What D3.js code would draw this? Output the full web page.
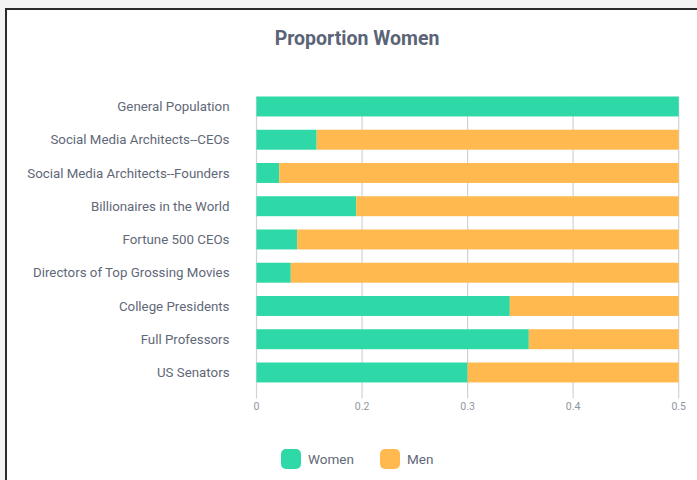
<!DOCTYPE html>
<html>
<head>
<meta charset="utf-8">
<script src="https://cdn.jsdelivr.net/npm/d3@7"></script>
<style>
  html, body { margin: 0; padding: 0; background: #f3f3f3; }
  svg { display: block; font-family: Roboto, "Noto Sans", sans-serif; }
</style>
</head>
<body>
<div id="chart"></div>
<script>
// categories, top to bottom
const categories = [
  "General Population",
  "Social Media Architects--CEOs",
  "Social Media Architects--Founders",
  "Billionaires in the World",
  "Fortune 500 CEOs",
  "Directors of Top Grossing Movies",
  "College Presidents",
  "Full Professors",
  "US Senators"
];

// series values
const women = [0.5, 0.114, 0.043, 0.189, 0.077, 0.065, 0.34, 0.358, 0.3];
const men   = [0, 0.386, 0.457, 0.311, 0.423, 0.435, 0.16, 0.142, 0.2];

// axis tick labels, as shown (evenly spaced)
const tickValues = [0, 0.2, 0.3, 0.4, 0.5];

const seriesNames = ["Women", "Men"];
const colors = ["#2fd8a7", "#ffb94f"];

const width = 697, height = 480;
const margin = { top: 96.5, left: 256.5 };

const svg = d3.select('#chart')
  .append('svg')
  .attr('width', width)
  .attr('height', height);

// white card with dark left/top border
svg.append('rect')
  .attr('x', 6).attr('y', 9)
  .attr('width', width).attr('height', height)
  .attr('fill', '#fff');
svg.append('path')
  .attr('d', `M6,${height} V9 H${width}`)
  .attr('fill', 'none')
  .attr('stroke', '#2b2b2b')
  .attr('stroke-width', 2);

svg.append('text')
  .attr('x', 357)
  .attr('y', 45)
  .attr('text-anchor', 'middle')
  .style('font-size', '19.5px')
  .style('font-weight', 'bold')
  .style('fill', '#5b6477')
  .text('Proportion Women');

const plotW = 678.7 - margin.left;
const step = 33.25;

// the axis puts its labelled ticks at equal distances
const x = d3.scaleLinear()
  .domain(tickValues)
  .range(tickValues.map((d, i) => margin.left + i * plotW / (tickValues.length - 1)));

const y = d3.scaleBand()
  .domain(categories)
  .range([margin.top, margin.top + step * (categories.length - 0.4)])
  .paddingInner(0.4)
  .paddingOuter(0);

const plotBottom = y.range()[1];

// grid lines
svg.append('g')
  .selectAll('line')
  .data(tickValues)
  .join('line')
  .attr('x1', d => x(d)).attr('x2', d => x(d))
  .attr('y1', margin.top).attr('y2', plotBottom + 16)
  .attr('stroke', '#cfd3d9')
  .attr('stroke-width', 1.2);

// stacked bars
const table = categories.map((c, i) => ({ category: c, Women: women[i], Men: men[i] }));
const stacked = d3.stack().keys(seriesNames)(table);

svg.append('g')
  .selectAll('g')
  .data(stacked)
  .join('g')
  .attr('fill', (d, i) => colors[i])
  .selectAll('rect')
  .data(d => d)
  .join('rect')
  .attr('x', d => x(d[0]))
  .attr('y', d => y(d.data.category))
  .attr('width', d => Math.max(0, x(d[1]) - x(d[0])))
  .attr('height', y.bandwidth());

// category labels
svg.append('g')
  .selectAll('text')
  .data(categories)
  .join('text')
  .attr('x', 229.5)
  .attr('y', d => y(d) + y.bandwidth() / 2)
  .attr('dy', '0.35em')
  .attr('text-anchor', 'end')
  .style('font-size', '13.3px')
  .style('fill', '#5f6878')
  .text(d => d);

// tick labels
svg.append('g')
  .selectAll('text')
  .data(tickValues)
  .join('text')
  .attr('x', d => x(d))
  .attr('y', 410)
  .attr('text-anchor', 'middle')
  .style('font-size', '10.5px')
  .style('fill', '#8f959f')
  .text(d => d);

// legend
const legend = svg.append('g')
  .selectAll('g')
  .data(seriesNames)
  .join('g')
  .attr('transform', (d, i) => `translate(${281 + i * 99}, 449)`);

legend.append('rect')
  .attr('width', 20).attr('height', 20)
  .attr('rx', 5)
  .attr('fill', (d, i) => colors[i]);

legend.append('text')
  .attr('x', 27)
  .attr('y', 10)
  .attr('dy', '0.35em')
  .style('font-size', '13.5px')
  .style('fill', '#5f6878')
  .text(d => d);
</script>
</body>
</html>
